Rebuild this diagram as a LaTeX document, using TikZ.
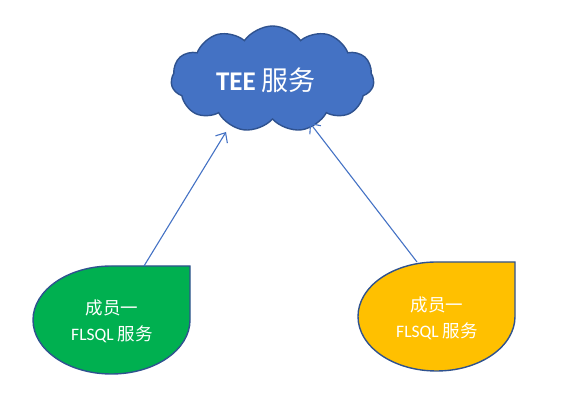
\documentclass[tikz,border=0pt]{standalone}
\usepackage{fontspec}
\setmainfont{Carlito}
\newfontfamily\cjk{Noto Sans CJK SC}
\usetikzlibrary{shapes.symbols,arrows.meta}
\definecolor{cloudblue}{HTML}{4472C4}
\definecolor{edgeblue}{HTML}{2F528F}
\definecolor{leafgreen}{HTML}{00B050}
\definecolor{leafgold}{HTML}{FFC000}
\tikzset{
  cloudshape/.style={cloud, cloud puffs=11, cloud puff arc=110, aspect=2.1,
    fill=cloudblue, draw=edgeblue, line width=1.4pt, minimum width=203pt, minimum height=106pt, inner sep=0pt},
  drop/.style={draw=edgeblue, line width=1.4pt},
  droptext/.style={text=white, font=\fontsize{17.5}{20}\selectfont, align=center},
  link/.style={draw=cloudblue, line width=1.1pt, -{Straight Barb[length=8pt,width=14pt]}},
}
\begin{document}
\begin{tikzpicture}[x=1pt,y=1pt]
\useasboundingbox (0,0) rectangle (564,414);
% cloud
\node[cloudshape] (cloud) at (272.5,335) {};
\node[text=white, font=\fontsize{27}{32}\selectfont] (cloudtext) at (266,334) {\textbf{TEE} {\cjk 服务}};
% left teardrop
\filldraw[drop, fill=leafgreen] (190,148) -- (190,94) arc[start angle=0, end angle=-270, x radius=78.5, y radius=54] -- cycle;
\node[droptext] (lefttext) at (112,93) {{\cjk 成员一}\\[6pt]FLSQL {\cjk 服务}};
% right teardrop
\filldraw[drop, fill=leafgold] (515,152) -- (515,97.5) arc[start angle=0, end angle=-270, x radius=78.5, y radius=54.5] -- cycle;
\node[droptext] (righttext) at (437,96) {{\cjk 成员一}\\[6pt]FLSQL {\cjk 服务}};
% connector ends
\coordinate (lstart) at (144,148);
\coordinate (rstart) at (417,152);
\coordinate (lend) at (226,282);
\coordinate (rend) at (310,291);
\draw[link] (lstart) -- (lend);
\draw[link] (rstart) -- (rend);
\end{tikzpicture}
\end{document}
